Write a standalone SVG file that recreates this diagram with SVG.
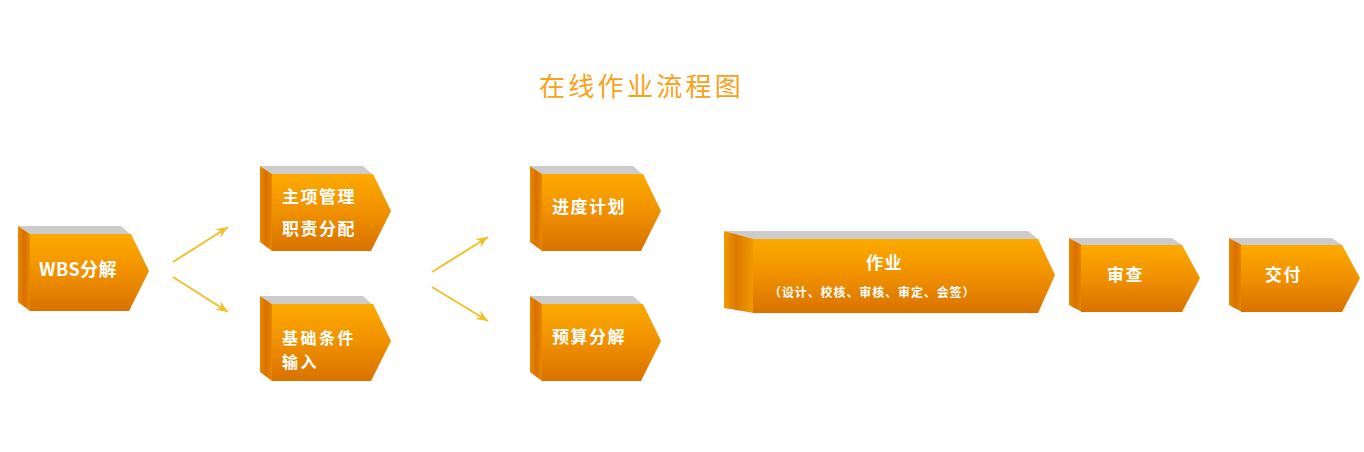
<svg xmlns="http://www.w3.org/2000/svg" xmlns:xlink="http://www.w3.org/1999/xlink" width="1364" height="452" viewBox="0 0 1364 452">
<defs>
<linearGradient id="gFront" x1="0" y1="0" x2="0" y2="1">
<stop offset="0" stop-color="#FDAA00"/>
<stop offset="0.5" stop-color="#F09000"/>
<stop offset="1" stop-color="#D87200"/>
</linearGradient>
<linearGradient id="gSide" x1="0" y1="0" x2="1" y2="0">
<stop offset="0" stop-color="#E88A00"/>
<stop offset="0.5" stop-color="#D87000"/>
<stop offset="1" stop-color="#E88800"/>
</linearGradient>
<linearGradient id="gSideWide" x1="0" y1="0" x2="1" y2="0">
<stop offset="0" stop-color="#F09A00"/>
<stop offset="0.4" stop-color="#DC7A00"/>
<stop offset="1" stop-color="#F29A00"/>
</linearGradient>
<marker id="arr" markerUnits="userSpaceOnUse" markerWidth="14" markerHeight="12" refX="12" refY="5" orient="auto">
<path d="M0,0 L12,5 L0,10 L4,5 Z" fill="#F0C028"/>
</marker>
<g id="box">
<polygon points="0,0 103,0 112,8 12,8" fill="#CCCCCC"/>
<polygon points="0,0 12,8 12,85 0,76" fill="url(#gSide)"/>
<polygon points="12,8 113,8 131,45 111,85 12,85" fill="url(#gFront)"/>
</g>
<g id="boxS">
<polygon points="0,0 103,0 113,7 13,7" fill="#CCCCCC"/>
<polygon points="0,0 13,7 13,74 0,67" fill="url(#gSide)"/>
<polygon points="12,7 113,7 131,40 113,74 12,74" fill="url(#gFront)"/>
</g>
</defs>
<style>
.lbl{font-family:"Noto Sans CJK SC","Liberation Sans",sans-serif;font-weight:bold;fill:#FFFFFF;font-size:17px;letter-spacing:1.5px}
.sub{font-family:"Noto Sans CJK SC","Liberation Sans",sans-serif;font-weight:bold;fill:#FFFFFF;font-size:12px;letter-spacing:0.9px}
.title{font-family:"Noto Sans CJK SC",sans-serif;fill:#F8A11A;font-size:26px;letter-spacing:3.3px}
.conn{stroke:#F0C028;stroke-width:2;fill:none;marker-end:url(#arr)}
</style>
<rect width="1364" height="452" fill="#FFFFFF"/>
<text class="title" x="539" y="96">在线作业流程图</text>
<g id="connectors">
<line class="conn" x1="173" y1="262" x2="228" y2="227"/>
<line class="conn" x1="173" y1="277" x2="228" y2="312"/>
<line class="conn" x1="432" y1="272" x2="488" y2="237"/>
<line class="conn" x1="432" y1="287" x2="488" y2="321"/>
</g>
<g id="n-wbs">
<use xlink:href="#box" x="18" y="226"/>
<text class="lbl" x="39" y="276" style="font-size:18px;letter-spacing:0.5px">WBS分解</text>
</g>
<g id="n-zhuxiang">
<use xlink:href="#box" x="260" y="166"/>
<text class="lbl" x="282" y="203">主项管理</text>
<text class="lbl" x="282" y="235">职责分配</text>
</g>
<g id="n-jichu">
<use xlink:href="#box" x="260" y="296"/>
<text class="lbl" x="282" y="344" style="font-size:16px;letter-spacing:2.5px">基础条件</text>
<text class="lbl" x="282" y="368" style="font-size:16px;letter-spacing:2.5px">输入</text>
</g>
<g id="n-jindu">
<use xlink:href="#box" x="530" y="166"/>
<text class="lbl" x="552" y="213">进度计划</text>
</g>
<g id="n-yusuan">
<use xlink:href="#box" x="530" y="296"/>
<text class="lbl" x="552" y="343">预算分解</text>
</g>
<g id="n-zuoye">
<polygon points="724,231 1028,231 1038,239 754,239" fill="#CCCCCC"/>
<polygon points="724,231 754,239 754,313 724,308" fill="url(#gSideWide)"/>
<polygon points="753,239 1038,239 1055,275 1038,313 753,313" fill="url(#gFront)"/>
<text class="lbl" x="866" y="269">作业</text>
<text class="sub" x="769" y="297">（设计、校核、审核、审定、会签）</text>
</g>
<g id="n-shencha">
<use xlink:href="#boxS" x="1069" y="238"/>
<text class="lbl" x="1107" y="281">审查</text>
</g>
<g id="n-jiaofu">
<use xlink:href="#boxS" x="1229" y="238"/>
<text class="lbl" x="1265" y="281">交付</text>
</g>
</svg>
